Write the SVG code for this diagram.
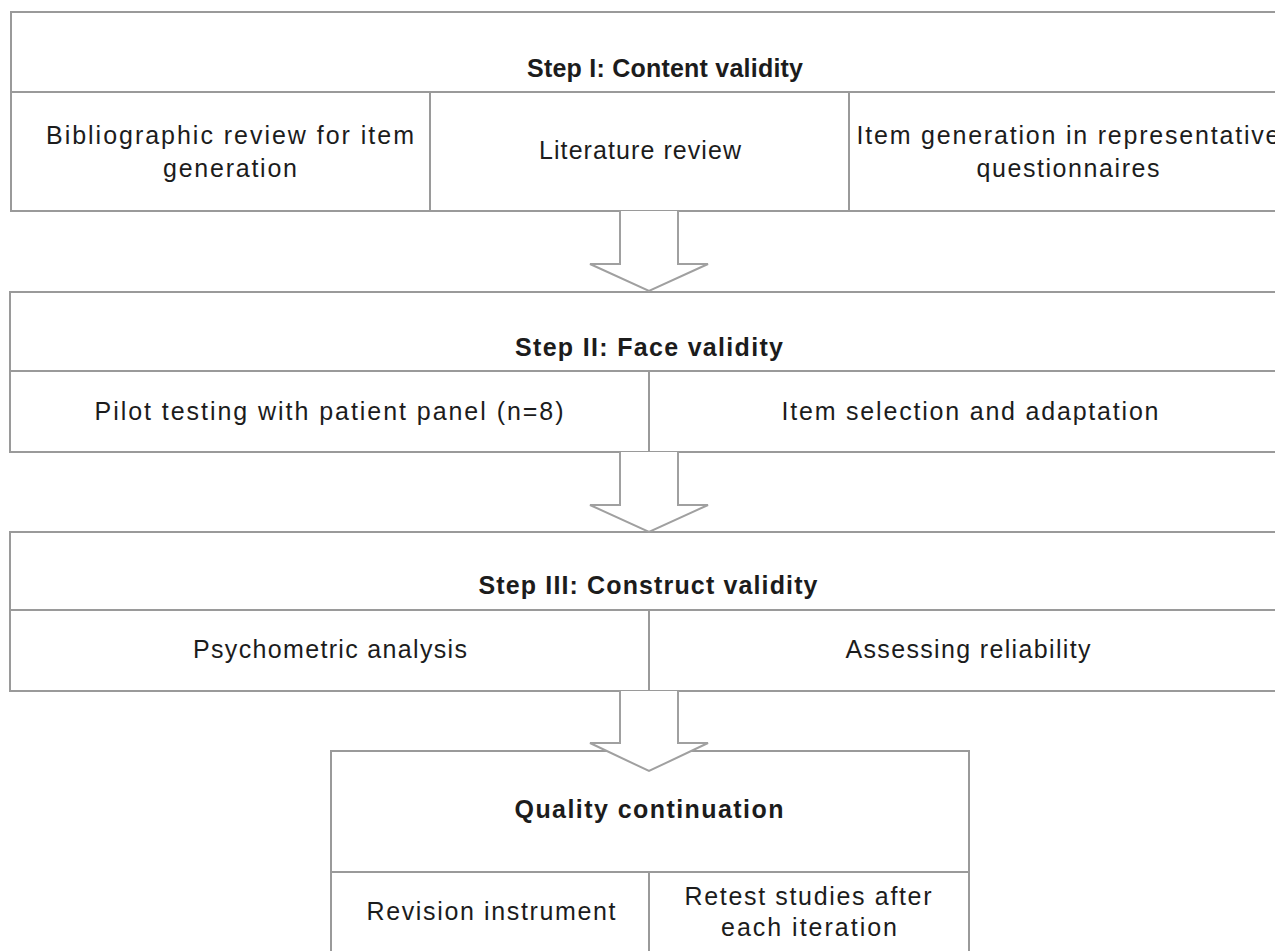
<svg xmlns="http://www.w3.org/2000/svg" width="1275" height="951" viewBox="0 0 1275 951">
<style>
.box{fill:#ffffff;stroke:#9a9a9a;stroke-width:2}
.ln{stroke:#9a9a9a;stroke-width:2;fill:none}
.arrow{fill:#ffffff;stroke:#a0a0a0;stroke-width:2;stroke-linejoin:miter}
text{font-family:"Liberation Sans",Arial,sans-serif;font-size:25px;fill:#1c1c1c;text-anchor:middle}
.t{font-weight:bold}
</style>
<rect width="1275" height="951" fill="#ffffff"/>
<g id="step1">
<rect class="box" x="11" y="12" width="1300" height="199"/>
<line class="ln" x1="11" y1="92" x2="1311" y2="92"/>
<line class="ln" x1="430" y1="92" x2="430" y2="211"/>
<line class="ln" x1="849" y1="92" x2="849" y2="211"/>
<text class="t" x="665" y="77" textLength="276" lengthAdjust="spacing">Step I: Content validity</text>
<text x="230" y="144" textLength="368" lengthAdjust="spacing">Bibliographic review for item</text>
<text x="230" y="177" textLength="134" lengthAdjust="spacing">generation</text>
<text x="640" y="159" textLength="202" lengthAdjust="spacing">Literature review</text>
<text x="1068" y="144" textLength="423" lengthAdjust="spacing">Item generation in representative</text>
<text x="1068" y="177" textLength="183" lengthAdjust="spacing">questionnaires</text>
</g>
<g id="step2">
<rect class="box" x="10" y="292" width="1300" height="160"/>
<line class="ln" x1="10" y1="371" x2="1310" y2="371"/>
<line class="ln" x1="649" y1="371" x2="649" y2="452"/>
<text class="t" x="649" y="356" textLength="268" lengthAdjust="spacing">Step II: Face validity</text>
<text x="329" y="420" textLength="469" lengthAdjust="spacing">Pilot testing with patient panel (n=8)</text>
<text x="970" y="420" textLength="377" lengthAdjust="spacing">Item selection and adaptation</text>
</g>
<g id="step3">
<rect class="box" x="10" y="532" width="1300" height="159"/>
<line class="ln" x1="10" y1="610" x2="1310" y2="610"/>
<line class="ln" x1="649" y1="610" x2="649" y2="691"/>
<text class="t" x="648" y="594" textLength="339" lengthAdjust="spacing">Step III: Construct validity</text>
<text x="330" y="658" textLength="274" lengthAdjust="spacing">Psychometric analysis</text>
<text x="968" y="658" textLength="245" lengthAdjust="spacing">Assessing reliability</text>
</g>
<g id="quality">
<rect class="box" x="331" y="751" width="638" height="260"/>
<line class="ln" x1="331" y1="872" x2="969" y2="872"/>
<line class="ln" x1="649" y1="872" x2="649" y2="1011"/>
<text class="t" x="649" y="818" textLength="269" lengthAdjust="spacing">Quality continuation</text>
<text x="491" y="920" textLength="249" lengthAdjust="spacing">Revision instrument</text>
<text x="808" y="905" textLength="247" lengthAdjust="spacing">Retest studies after</text>
<text x="809" y="936" textLength="176" lengthAdjust="spacing">each iteration</text>
</g>
<g id="connectors">
<path class="arrow" d="M620,211 L620,264 L590,264 L649,291 L708,264 L678,264 L678,211"/>
<path class="arrow" d="M620,452 L620,505 L590,505 L649,532 L708,505 L678,505 L678,452"/>
<path class="arrow" d="M620,691 L620,743 L590,743 L649,771 L708,743 L678,743 L678,691"/>
</g>
</svg>
